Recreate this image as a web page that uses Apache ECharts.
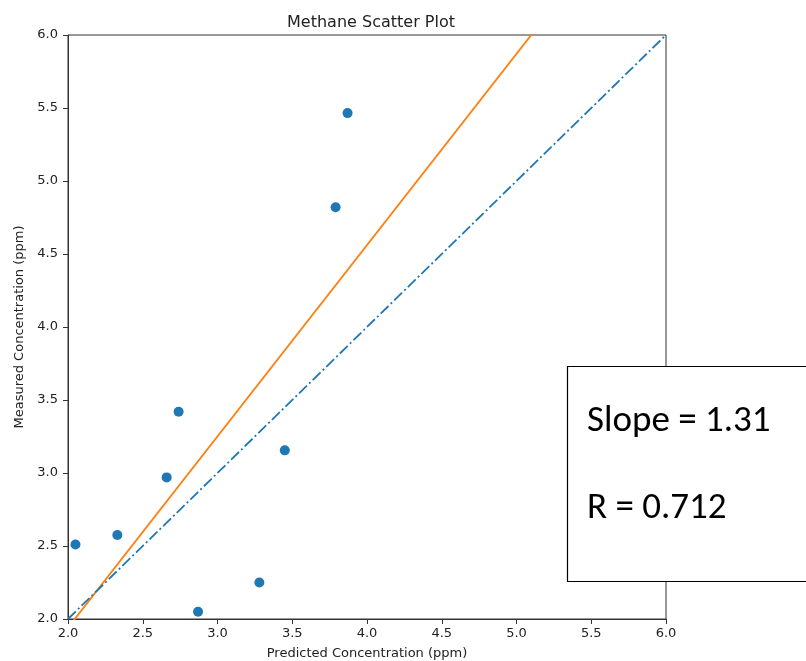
<!DOCTYPE html>
<html>
<head>
<meta charset="utf-8">
<script src="https://cdn.jsdelivr.net/npm/echarts@6/dist/echarts.min.js"></script>
<style>html,body{margin:0;padding:0;background:#fff;}#c{width:806px;height:661px;}</style>
</head>
<body>
<div id="c"></div>
<script>
const predicted = [2.05, 2.33, 2.66, 2.74, 2.87, 3.28, 3.45, 3.79, 3.87];
const measured  = [2.51, 2.575, 2.97, 3.42, 2.05, 2.25, 3.155, 4.82, 5.465];
const fitSlope = 1.31;
const fitIntercept = -0.679;
const rValue = 0.712;
const axisMin = 2.0, axisMax = 6.0, axisStep = 0.5;

const points = predicted.map((x, i) => [x, measured[i]]);
const identity = [[axisMin, axisMin], [axisMax, axisMax]];
const fitLine = [axisMin, axisMax].map(x => [x, fitSlope * x + fitIntercept]);

const font = 'DejaVu Sans';
const chart = echarts.init(document.getElementById('c'), null, {renderer: 'canvas'});
chart.setOption({
  animation: false,
  backgroundColor: '#fff',
  title: {
    text: 'Methane Scatter Plot', left: 366, top: 10, textAlign: 'center',
    textStyle: {fontFamily: font, fontSize: 16, fontWeight: 'normal', color: '#222'}
  },
  grid: {left: 68, top: 35, right: 140, bottom: 42, show: true, borderColor: '#333', borderWidth: 1,
         backgroundColor: 'transparent', outerBoundsMode: 'none', containLabel: false},
  xAxis: {
    type: 'value', min: axisMin, max: axisMax, interval: axisStep,
    name: 'Predicted Concentration (ppm)', nameLocation: 'middle', nameGap: 28,
    nameTextStyle: {fontFamily: font, fontSize: 13, color: '#222'},
    axisLine: {show: true, lineStyle: {color: '#333', width: 1}},
    axisTick: {show: true, length: 5, lineStyle: {color: '#333'}},
    axisLabel: {fontFamily: font, fontSize: 13, color: '#222', margin: 8, formatter: v => v.toFixed(1)},
    splitLine: {show: false}
  },
  yAxis: {
    type: 'value', min: axisMin, max: axisMax, interval: axisStep,
    name: 'Measured Concentration (ppm)', nameLocation: 'middle', nameGap: 40,
    nameTextStyle: {fontFamily: font, fontSize: 13, color: '#222'},
    axisLine: {show: true, lineStyle: {color: '#333', width: 1}},
    axisTick: {show: true, length: 5, lineStyle: {color: '#333'}},
    axisLabel: {fontFamily: font, fontSize: 13, color: '#222', margin: 10, formatter: v => v.toFixed(1)},
    splitLine: {show: false}
  },
  series: [
    {
      type: 'scatter', data: points, symbol: 'circle', symbolSize: 10,
      itemStyle: {color: '#1f77b4', opacity: 1}, z: 3
    },
    {
      type: 'line', data: fitLine, showSymbol: false, symbol: 'none', clip: true,
      lineStyle: {color: '#ff7f0e', width: 1.8}, z: 2
    },
    {
      type: 'line', data: identity, showSymbol: false, symbol: 'none', clip: true,
      lineStyle: {color: '#1f77b4', width: 1.8, type: [11, 3, 2, 3]}, z: 2
    }
  ],
  graphic: [
    {
      type: 'group', z: 100,
      children: [
        {type: 'rect', shape: {x: 567.5, y: 366.5, width: 260, height: 215}, style: {fill: '#fff', stroke: '#000', lineWidth: 1.2}},
        {type: 'text', x: 587, y: 422, style: {text: 'Slope = ' + fitSlope.toFixed(2), font: '37px Carlito, "Liberation Sans", sans-serif', fill: '#000', verticalAlign: 'middle'}},
        {type: 'text', x: 587, y: 509, style: {text: 'R = ' + rValue.toFixed(3), font: '37px Carlito, "Liberation Sans", sans-serif', fill: '#000', verticalAlign: 'middle'}}
      ]
    }
  ]
});
</script>
</body>
</html>
